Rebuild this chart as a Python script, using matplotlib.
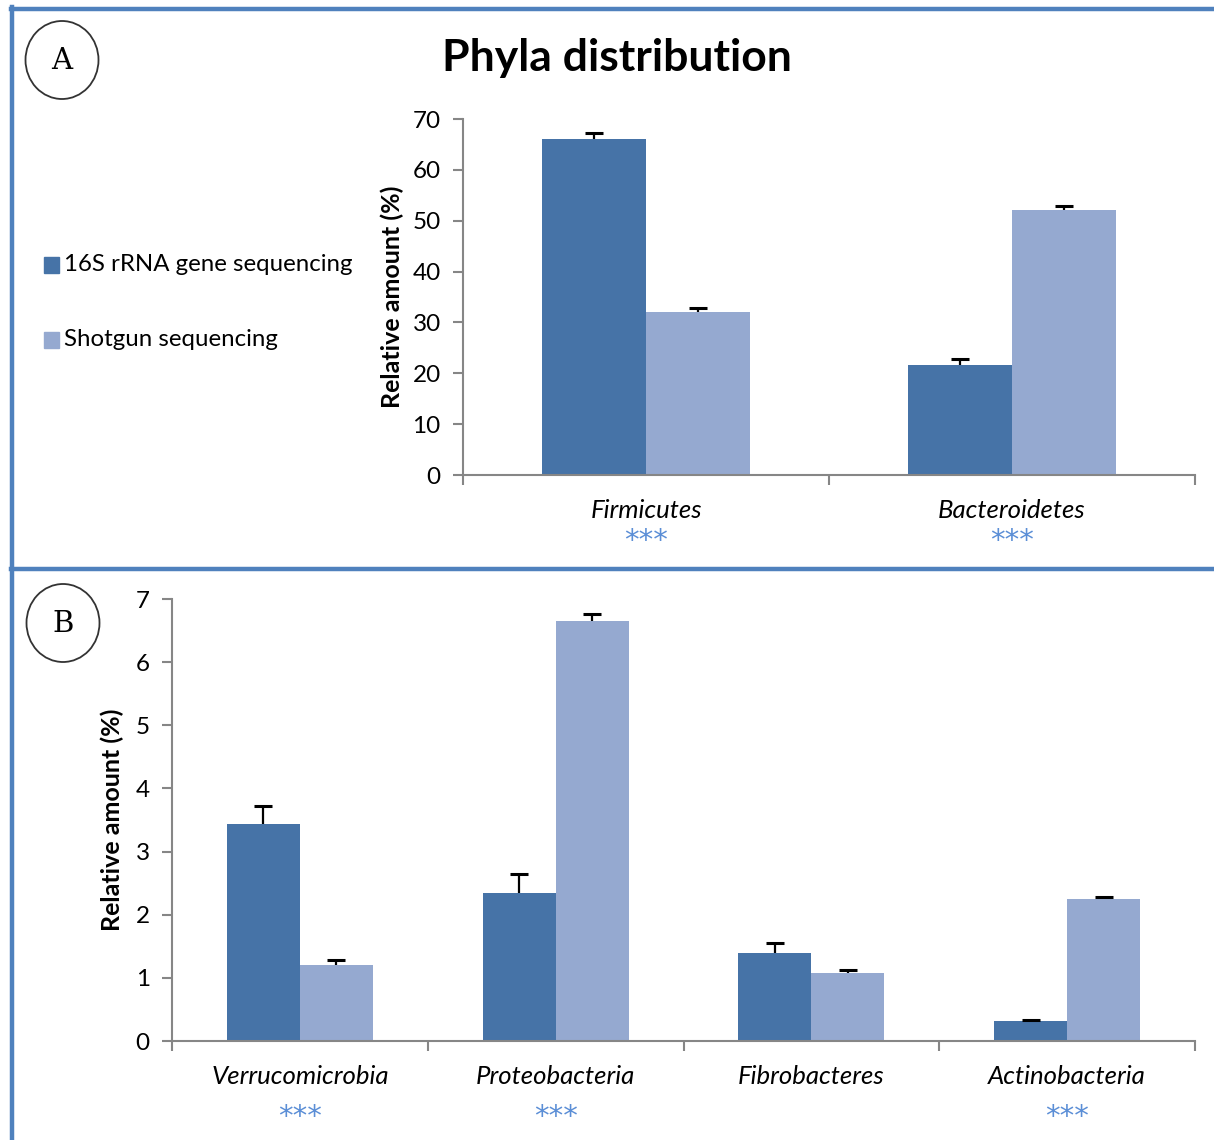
import numpy as np
import matplotlib
matplotlib.use("Agg")
import matplotlib.pyplot as plt
from matplotlib.patches import Ellipse
from matplotlib.lines import Line2D

plt.rcParams['font.family'] = ['Lato', 'DejaVu Sans']

# Panel A: major phyla
phyla_a = ['Firmicutes', 'Bacteroidetes']
rrna_a = [66.1, 21.6]
rrna_a_err = [1.1, 1.2]
shotgun_a = [32.1, 52.1]
shotgun_a_err = [0.8, 0.8]
stars_a = ['***', '***']

# Panel B: minor phyla
phyla_b = ['Verrucomicrobia', 'Proteobacteria', 'Fibrobacteres', 'Actinobacteria']
rrna_b = [3.44, 2.34, 1.39, 0.32]
rrna_b_err = [0.28, 0.30, 0.16, 0.02]
shotgun_b = [1.20, 6.65, 1.08, 2.25]
shotgun_b_err = [0.08, 0.11, 0.04, 0.03]
stars_b = ['***', '***', '', '***']

W, H = 1214, 1140
DARK = '#4673A7'
LIGHT = '#95A9D0'
FRAME = '#4F81BD'
AXIS = '#868686'
STAR = '#5B8ED6'


def px_axes(fig, left, top, right, bottom):
    return fig.add_axes([left / W, 1 - bottom / H, (right - left) / W, (bottom - top) / H])


def upper_error(ax, x, v, e):
    # only the positive half of the error bar, with a cap on top
    top = np.asarray(v) + np.asarray(e)
    ax.vlines(x, v, top, color='black', lw=1.6, zorder=3)
    ax.plot(x, top, ls='none', marker='_', ms=13, mew=2.2, color='black', zorder=3)


def bar_panel(ax, names, v1, e1, v2, e2, stars, ymax, step, star_off):
    n = len(names)
    x = np.arange(n)
    bw = 0.285
    ax.bar(x - bw / 2, v1, bw, color=DARK, zorder=2)
    ax.bar(x + bw / 2, v2, bw, color=LIGHT, zorder=2)
    upper_error(ax, x - bw / 2, v1, e1)
    upper_error(ax, x + bw / 2, v2, e2)
    ax.set_xlim(-0.5, n - 0.5)
    ax.set_ylim(0, ymax)
    ax.set_yticks(np.arange(0, ymax + step / 2, step))
    ax.set_xticks(np.arange(n + 1) - 0.5)
    ax.set_xticklabels([])
    ax.set_xticks(x, minor=True)
    ax.set_xticklabels(names, minor=True, style='italic', fontsize=18.5)
    ax.tick_params(axis='x', which='major', direction='out', length=7, width=1.5, color=AXIS)
    ax.tick_params(axis='x', which='minor', length=0, pad=17)
    ax.tick_params(axis='y', direction='out', length=7, width=1.5, color=AXIS,
                   labelsize=17.5, pad=9)
    for side in ['top', 'right']:
        ax.spines[side].set_visible(False)
    for side in ['left', 'bottom']:
        ax.spines[side].set_color(AXIS)
        ax.spines[side].set_linewidth(1.5)
    ax.set_ylabel('Relative amount (%)', fontsize=18, fontweight='bold')
    for xi, s in zip(x, stars):
        if s:
            ax.annotate(s, (xi, 0), xycoords=('data', 'axes fraction'),
                        xytext=(0, -star_off), textcoords='offset pixels',
                        ha='center', va='center', fontsize=21, color=STAR,
                        family='DejaVu Sans')


fig = plt.figure(figsize=(W / 100, H / 100), dpi=100)

# blue frame lines
fig.add_artist(Line2D([12.5 / W, 12.5 / W], [0, 1 - 7 / H], color=FRAME, lw=3.2))
fig.add_artist(Line2D([11 / W, 1], [1 - 8.5 / H, 1 - 8.5 / H], color=FRAME, lw=3.2))
fig.add_artist(Line2D([11 / W, 1], [1 - 569 / H, 1 - 569 / H], color=FRAME, lw=3.2))

# panel letters in circles
for cx, cy, letter in [(62, 60, 'A'), (63, 623, 'B')]:
    fig.add_artist(Ellipse((cx / W, 1 - cy / H), 73 / W, 78 / H,
                           transform=fig.transFigure, fill=False,
                           edgecolor='#333333', lw=1.3))
    fig.text(cx / W, 1 - (cy + 1) / H, letter, ha='center', va='center',
             fontsize=21, family='DejaVu Serif')

fig.text(617 / W, 1 - 58 / H, 'Phyla distribution', ha='center', va='center',
         fontsize=32, fontweight='bold')

ax_a = px_axes(fig, 463, 119, 1195, 475)
bar_panel(ax_a, phyla_a, rrna_a, rrna_a_err, shotgun_a, shotgun_a_err, stars_a, 70, 10, 66)
ax_a.yaxis.set_label_coords(-0.081, 0.5)

ax_b = px_axes(fig, 172, 599, 1195, 1041)
bar_panel(ax_b, phyla_b, rrna_b, rrna_b_err, shotgun_b, shotgun_b_err, stars_b, 7, 1, 76)
ax_b.yaxis.set_label_coords(-0.047, 0.5)

# legend drawn to the left of panel A
for ly, color, label in [(265, DARK, '16S rRNA gene sequencing'),
                         (340, LIGHT, 'Shotgun sequencing')]:
    fig.patches.append(plt.Rectangle((44 / W, 1 - (ly + 7.5) / H), 15 / W, 15 / H,
                                     transform=fig.transFigure, color=color))
    fig.text(64 / W, 1 - ly / H, label, ha='left', va='center', fontsize=17.3)

fig.savefig('out.png', dpi=100)
